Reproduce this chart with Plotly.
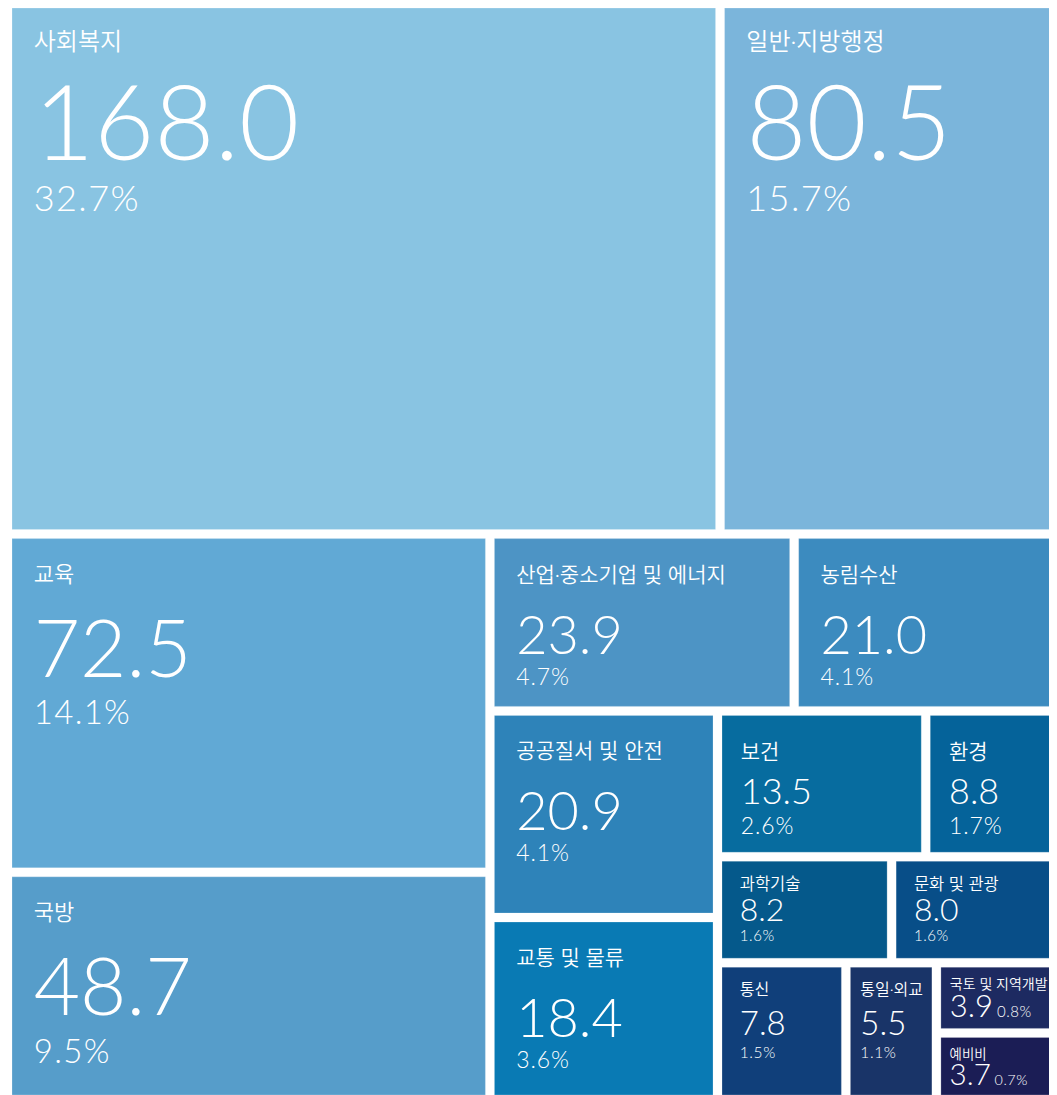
import plotly.graph_objects as go

# ---------------- data ----------------
categories = ["사회복지", "일반·지방행정", "교육", "국방", "산업·중소기업 및 에너지", "농림수산",
              "공공질서 및 안전", "교통 및 물류", "보건", "환경", "과학기술", "문화 및 관광",
              "통신", "통일·외교", "국토 및 지역개발", "예비비"]
budget = [168.0, 80.5, 72.5, 48.7, 23.9, 21.0, 20.9, 18.4, 13.5, 8.8, 8.2, 8.0, 7.8, 5.5, 3.9, 3.7]
share = [32.7, 15.7, 14.1, 9.5, 4.7, 4.1, 4.1, 3.6, 2.6, 1.7, 1.6, 1.6, 1.5, 1.1, 0.8, 0.7]

# row / column grouping of the reference layout (invisible parent nodes)
tree = {
    "g0": ["g_top", "g_bot"],
    "g_top": ["사회복지", "일반·지방행정"],
    "g_bot": ["g_edu", "g_r1"],
    "g_edu": ["교육", "국방"],
    "g_r1": ["g_ind", "g_r2"],
    "g_ind": ["산업·중소기업 및 에너지", "농림수산"],
    "g_r2": ["g_pub", "g_r3"],
    "g_pub": ["공공질서 및 안전", "교통 및 물류"],
    "g_r3": ["g_hl", "g_sci", "g_r4"],
    "g_hl": ["보건", "환경"],
    "g_sci": ["과학기술", "문화 및 관광"],
    "g_r4": ["통신", "통일·외교", "g_land"],
    "g_land": ["국토 및 지역개발", "예비비"],
}

# ---------------- styles ----------------
colors = {
    "사회복지": "#89C4E2", "일반·지방행정": "#7BB5DB", "교육": "#61A9D5", "국방": "#569DCA",
    "산업·중소기업 및 에너지": "#4D94C5", "농림수산": "#3C8BBF", "공공질서 및 안전": "#2E83B9",
    "교통 및 물류": "#097AB4", "보건": "#076C9F", "환경": "#05639A", "과학기술": "#05598B",
    "문화 및 관광": "#084E88", "통신": "#103F7A", "통일·외교": "#193468", "국토 및 지역개발": "#1D2A61",
    "예비비": "#1B1D55",
}
# lab/val/pct: font sizes; b: base line unit; nV/nP: line steps; indent: text inset; top: label baseline
tiers = {
    "XL": dict(lab=24, val=104, pct=36, b=5.64, nV=15, nP=7, indent=23, top=42),
    "L": dict(lab=22, val=80, pct=33, b=5.23, nV=14, nP=7, indent=23, top=43),
    "M": dict(lab=21, val=54, pct=23, b=7.92, nV=7, nP=3, indent=23, top=43),
    "S": dict(lab=21, val=36, pct=23, b=11.54, nV=3, nP=2, indent=20, top=44),
    "XS": dict(lab=16.5, val=32, pct=15, b=7.85, nV=3, nP=2, indent=19, top=29),
    "XS2": dict(lab=16, val=33, pct=15.5, b=4.42, nV=7, nP=4, indent=19, top=28),
    "XS3": dict(lab=16, val=33, pct=15.5, b=4.42, nV=7, nP=4, indent=11, top=28),
    "XXS": dict(lab=14, val=31, pct=15, b=21.5, nV=1, nP=0, indent=10, top=22),
}
tier_of = {
    "사회복지": "XL", "일반·지방행정": "XL", "교육": "L", "국방": "L",
    "산업·중소기업 및 에너지": "M", "농림수산": "M", "공공질서 및 안전": "M", "교통 및 물류": "M",
    "보건": "S", "환경": "S", "과학기술": "XS", "문화 및 관광": "XS",
    "통신": "XS2", "통일·외교": "XS3", "국토 및 지역개발": "XXS", "예비비": "XXS",
}
NB_EM = 0.26       # advance of a no-break space (em)
ASC_EM = 0.987     # ascent of the text font (em)
TEXTPAD = 3
NB = "\u00a0"


def spacer(st):
    sv = max(st["top"] - TEXTPAD, 1) / ASC_EM
    w = st["indent"] - TEXTPAD - 1
    n = int(w // (NB_EM * sv))
    rem = w - n * NB_EM * sv
    f2 = rem / NB_EM
    s = ""
    if n > 0:
        s += f'<span style="font-size:{sv:.1f}px">{NB * n}</span>'
    else:
        s += f'<span style="font-size:{sv:.1f}px">\u200b</span>'
    if f2 > 0.5:
        s += f'<span style="font-size:{f2:.1f}px">{NB}</span>'
    return s


def cell_text(name, val, pc):
    st = tiers[tier_of[name]]
    sp = spacer(st)
    lab = f'<span style="font-size:{st["lab"]}px;font-weight:350">{name}</span>'
    v = f'<span style="font-size:{st["val"]}px;font-weight:300">{val:.1f}</span>'
    p = f'<span style="font-size:{st["pct"]}px;font-weight:300;letter-spacing:0.04em">{pc:.1f}%</span>'
    if st["nP"] == 0:
        return sp + lab + "<br>" * st["nV"] + sp + v + f'<span style="font-size:{st["pct"]}px">{NB}</span>' + p
    return sp + lab + "<br>" * st["nV"] + sp + v + "<br>" * st["nP"] + sp + p


value_of = dict(zip(categories, budget))
share_of = dict(zip(categories, share))

ids, parents, vals, texts, cols, lw, sizes = [], [], [], [], [], [], []


def walk(node, parent):
    ids.append(node)
    parents.append(parent)
    if node in tree:
        vals.append(0)
        texts.append("")
        cols.append("white")
        lw.append(0)
        sizes.append(10)
        for ch in tree[node]:
            walk(ch, node)
    else:
        vals.append(value_of[node])
        texts.append(cell_text(node, value_of[node], share_of[node]))
        cols.append(colors[node])
        lw.append(1)
        sizes.append(tiers[tier_of[node]]["b"])


walk("g0", "")

fig = go.Figure(go.Treemap(
    ids=ids,
    labels=ids,
    parents=parents,
    values=vals,
    branchvalues="remainder",
    sort=False,
    text=texts,
    textinfo="text",
    textposition="top left",
    textfont=dict(family="Lato, 'Noto Sans CJK KR', sans-serif", color="white", size=sizes),
    marker=dict(colors=cols, pad=dict(t=0, l=0, r=0, b=0),
                line=dict(color="rgba(255,255,255,0.22)", width=lw)),
    tiling=dict(packing="dice-slice", pad=9),
    pathbar=dict(visible=False),
    hoverinfo="skip",
))

fig.update_layout(
    width=1049, height=1087,
    margin=dict(l=4, r=0, t=0, b=0),
    paper_bgcolor="white",
    showlegend=False,
)

fig.write_html("out.html")
